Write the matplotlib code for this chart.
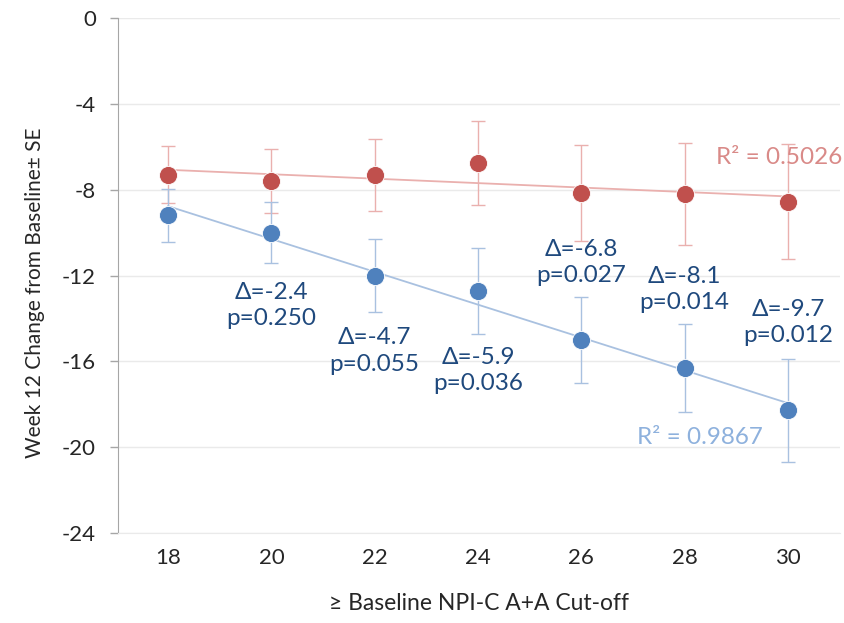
import numpy as np
import matplotlib
matplotlib.use('Agg')
import matplotlib.pyplot as plt

plt.rcParams['font.family'] = ['Lato', 'Open Sans', 'DejaVu Sans']
plt.rcParams['axes.unicode_minus'] = False

# cut-off values on the x axis
cutoff = [18, 20, 22, 24, 26, 28, 30]

# red series (upper)
red_mean = [-7.3, -7.6, -7.3, -6.75, -8.15, -8.2, -8.55]
red_se = [1.33, 1.5, 1.67, 1.97, 2.25, 2.38, 2.68]

# blue series (lower)
blue_mean = [-9.2, -10.0, -12.0, -12.72, -15.0, -16.32, -18.27]
blue_se = [1.23, 1.42, 1.72, 2.0, 2.0, 2.05, 2.4]

# delta / p annotations (for cut-offs 20..30)
delta_x = [20, 22, 24, 26, 28, 30]
delta_txt = ['-2.4', '-4.7', '-5.9', '-6.8', '-8.1', '-9.7']
p_txt = ['0.250', '0.055', '0.036', '0.027', '0.014', '0.012']
delta_y = [-13.4, -15.52, -16.43, -11.39, -12.67, -14.21]

red_r2 = '0.5026'
blue_r2 = '0.9867'

RED = '#C0504D'
RED_LIGHT = '#EAB0AE'
BLUE = '#4F81BD'
BLUE_LIGHT = '#A9C1E0'
NAVY = '#1F497D'

fig = plt.figure(figsize=(8.44, 6.23), dpi=100)
ax = fig.add_axes([0.1398, 0.1445, 0.855, 0.8265])

x = np.array(cutoff)

# trendlines
for mean, col in [(red_mean, RED_LIGHT), (blue_mean, BLUE_LIGHT)]:
    k, b = np.polyfit(x, mean, 1)
    ax.plot(x, k * x + b, color=col, lw=1.3, zorder=2)

ax.errorbar(x, red_mean, yerr=red_se, fmt='none', ecolor=RED_LIGHT,
            elinewidth=1.0, capsize=4.7, capthick=1.0, zorder=3)
ax.errorbar(x, blue_mean, yerr=blue_se, fmt='none', ecolor=BLUE_LIGHT,
            elinewidth=1.0, capsize=4.7, capthick=1.0, zorder=3)
ax.plot(x, red_mean, 'o', ms=13, color=RED, mec='white', mew=0.6, zorder=4)
ax.plot(x, blue_mean, 'o', ms=13, color=BLUE, mec='white', mew=0.6, zorder=4)

for xi, yi, d, p in zip(delta_x, delta_y, delta_txt, p_txt):
    ax.text(xi, yi, '\u0394=' + d + '\np=' + p, ha='center', va='center',
            fontsize=17.5, color=NAVY, linespacing=1.3, zorder=5)

ax.text(28.6, -6.52, 'R\u00b2 = ' + red_r2, ha='left', va='center',
        fontsize=17.5, color='#D98A88', zorder=5)
ax.text(27.07, -19.57, 'R\u00b2 = ' + blue_r2, ha='left', va='center',
        fontsize=17.5, color='#8EB1DD', zorder=5)

ax.set_xlim(17.03, 31.0)
ax.set_ylim(-24, 0)
ax.set_xticks(cutoff)
ax.set_yticks(np.arange(-24, 1, 4))
ax.grid(axis='y', color='#EAEAEA', lw=1)
ax.set_axisbelow(True)

for s in ['top', 'right']:
    ax.spines[s].set_visible(False)
ax.spines['left'].set_color('#A6A6A6')
ax.spines['bottom'].set_color('#EAEAEA')
ax.tick_params(axis='y', length=6, width=1, color='#A6A6A6', pad=10,
               labelsize=16, labelcolor='#262626')
ax.tick_params(axis='x', length=0, pad=11, labelsize=16, labelcolor='#262626')

ax.set_ylabel('Week 12 Change from Baseline\u00b1 SE', fontsize=15,
              color='#262626', labelpad=12, y=0.466)
ax.set_xlabel('\u2265 Baseline NPI-C A+A Cut-off', fontsize=16.5,
              color='#262626', labelpad=18)

fig.savefig('out.png', dpi=100)
